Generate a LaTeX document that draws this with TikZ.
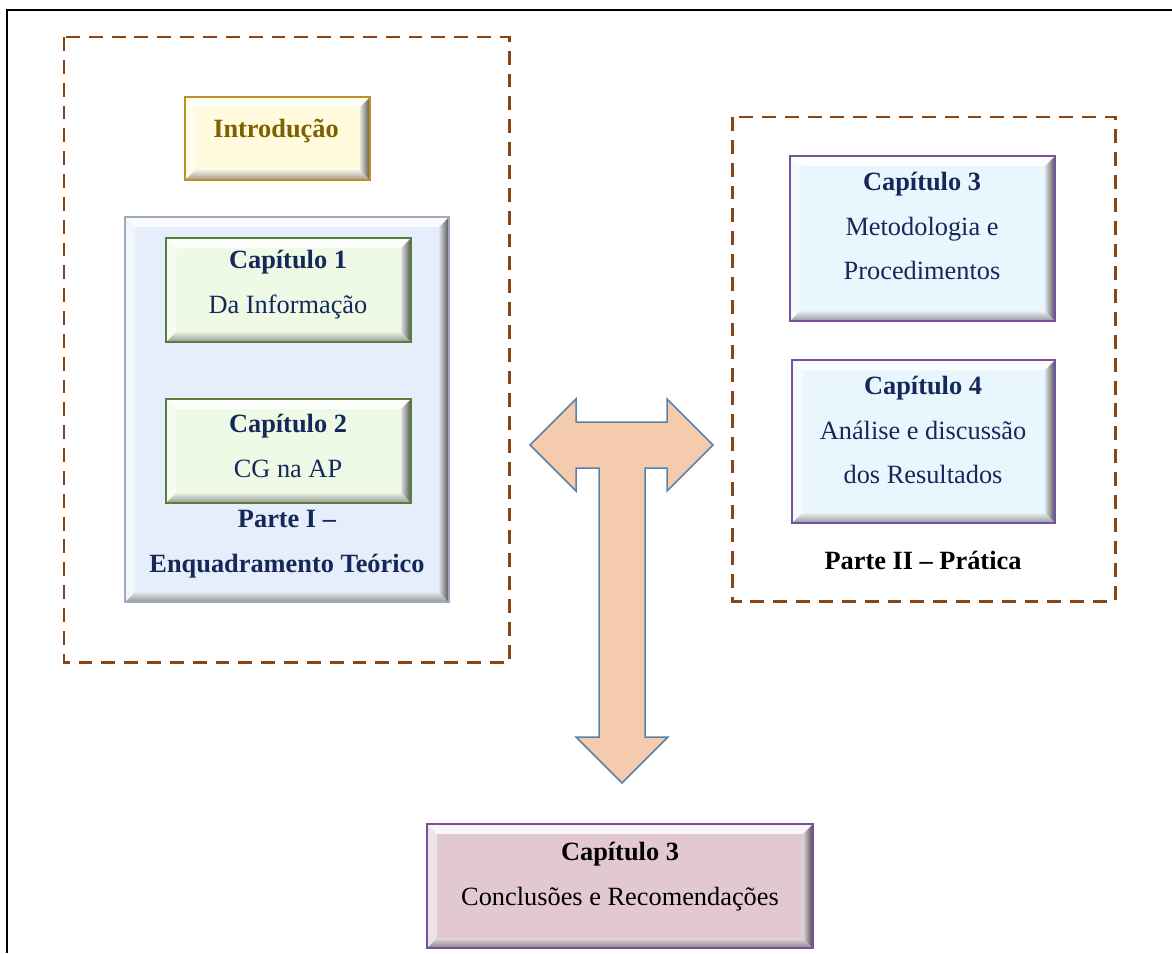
\documentclass[tikz,border=0pt]{standalone}
\usepackage{fontspec}
\setmainfont{Liberation Serif}
\usetikzlibrary{fit}
\definecolor{dashbrown}{RGB}{139,69,19}
\definecolor{introfill}{RGB}{255,251,220}
\definecolor{introborder}{RGB}{190,145,30}
\definecolor{introtext}{RGB}{127,96,0}
\definecolor{partfill}{RGB}{230,238,251}
\definecolor{partborder}{RGB}{160,170,190}
\definecolor{greenfill}{RGB}{238,250,230}
\definecolor{greenborder}{RGB}{90,125,60}
\definecolor{bluefill}{RGB}{234,246,254}
\definecolor{purpleborder}{RGB}{120,80,160}
\definecolor{pinkfill}{RGB}{226,200,207}
\definecolor{navy}{RGB}{20,40,90}
\definecolor{arrowfill}{RGB}{245,203,174}
\definecolor{arrowborder}{RGB}{90,130,168}
\newlength\bv \setlength\bv{0.2cm}
\tikzset{
  bevel/.style={path picture={
    \fill[white,opacity=.85] (path picture bounding box.north west) -- (path picture bounding box.north east) -- ([shift={(-\bv,-\bv)}]path picture bounding box.north east) -- ([shift={(\bv,-\bv)}]path picture bounding box.north west) -- cycle;
    \fill[white,opacity=.5] (path picture bounding box.north west) -- ([shift={(\bv,-\bv)}]path picture bounding box.north west) -- ([shift={(\bv,\bv)}]path picture bounding box.south west) -- (path picture bounding box.south west) -- cycle;
    \shade[top color=black!10, bottom color=black!70, opacity=.55] (path picture bounding box.south west) -- ([shift={(\bv,\bv)}]path picture bounding box.south west) -- ([shift={(-\bv,\bv)}]path picture bounding box.south east) -- (path picture bounding box.south east) -- cycle;
    \shade[left color=black!15, right color=black!95, opacity=.7] (path picture bounding box.south east) -- ([shift={(-\bv,\bv)}]path picture bounding box.south east) -- ([shift={(-\bv,-\bv)}]path picture bounding box.north east) -- (path picture bounding box.north east) -- cycle;
  }},
  box/.style={inner sep=0pt, outer sep=0pt, line width=1.1pt, bevel},
  groupbox/.style={draw=dashbrown, line width=1.7pt, dash pattern=on 7.9pt off 5.1pt},
  txt/.style={font=\fontsize{15}{25.5}\selectfont, align=center, inner sep=0pt},
  bold/.style={txt, font=\fontsize{15}{25.5}\selectfont\bfseries}
}
\begin{document}
\begin{tikzpicture}[x=0.02cm, y=-0.02cm]
\useasboundingbox (0,0) rectangle (1172,953);
% outer frame
\draw[line width=1.1pt] (7,953) -- (7,10) -- (1172,10);
% dashed groups
\draw[groupbox] (64,37) rectangle (509,662);
\draw[groupbox] (732,117) rectangle (1115,601);
% Introducao
\node[box, fill=introfill, draw=introborder, fit={(185,97) (370,180)}] (introbox) {};
\node[bold, text=introtext] (intro) at (276,131) {Introdução};
% Parte I
\node[box, fill=partfill, draw=partborder, fit={(125,217) (449,602)}] (p1box) {};
\node[box, fill=greenfill, draw=greenborder, fit={(166,238) (411,342)}] (c1box) {};
\node[txt, text=navy] (c1) at (288,285) {\textbf{Capítulo 1}\\Da Informação};
\node[box, fill=greenfill, draw=greenborder, fit={(166,399) (411,503)}] (c2box) {};
\node[txt, text=navy] (c2) at (288,446) {\textbf{Capítulo 2}\\CG na AP};
\node[bold, text=navy] (p1) at (287,544) {Parte I –\\Enquadramento Teórico};
% Parte II
\node[box, fill=bluefill, draw=purpleborder, fit={(790,156) (1055,321)}] (c3box) {};
\node[txt, text=navy] (c3) at (922,226) {\textbf{Capítulo 3}\\Metodologia e\\Procedimentos};
\node[box, fill=bluefill, draw=purpleborder, fit={(792,360) (1055,523)}] (c4box) {};
\node[txt, text=navy] (c4) at (923,430) {\textbf{Capítulo 4}\\Análise e discussão\\dos Resultados};
\node[bold, text=black] (p2) at (923,560) {Parte II – Prática};
% T arrow
\draw[fill=arrowfill, draw=arrowborder, line width=0.85pt, line join=miter]
  (530,445) -- (576,399) -- (576,422) -- (667,422) -- (667,399) -- (713,445)
  -- (667,491) -- (667,468) -- (645,468) -- (645,737) -- (668,737) -- (622,783)
  -- (576,737) -- (599,737) -- (599,468) -- (576,468) -- (576,491) -- cycle;
% Conclusoes
\node[box, fill=pinkfill, draw=purpleborder, fit={(427,824) (813,948)}] (c5box) {};
\node[txt, text=black] (c5) at (620,877) {\textbf{Capítulo 3}\\Conclusões e Recomendações};
\end{tikzpicture}
\end{document}
